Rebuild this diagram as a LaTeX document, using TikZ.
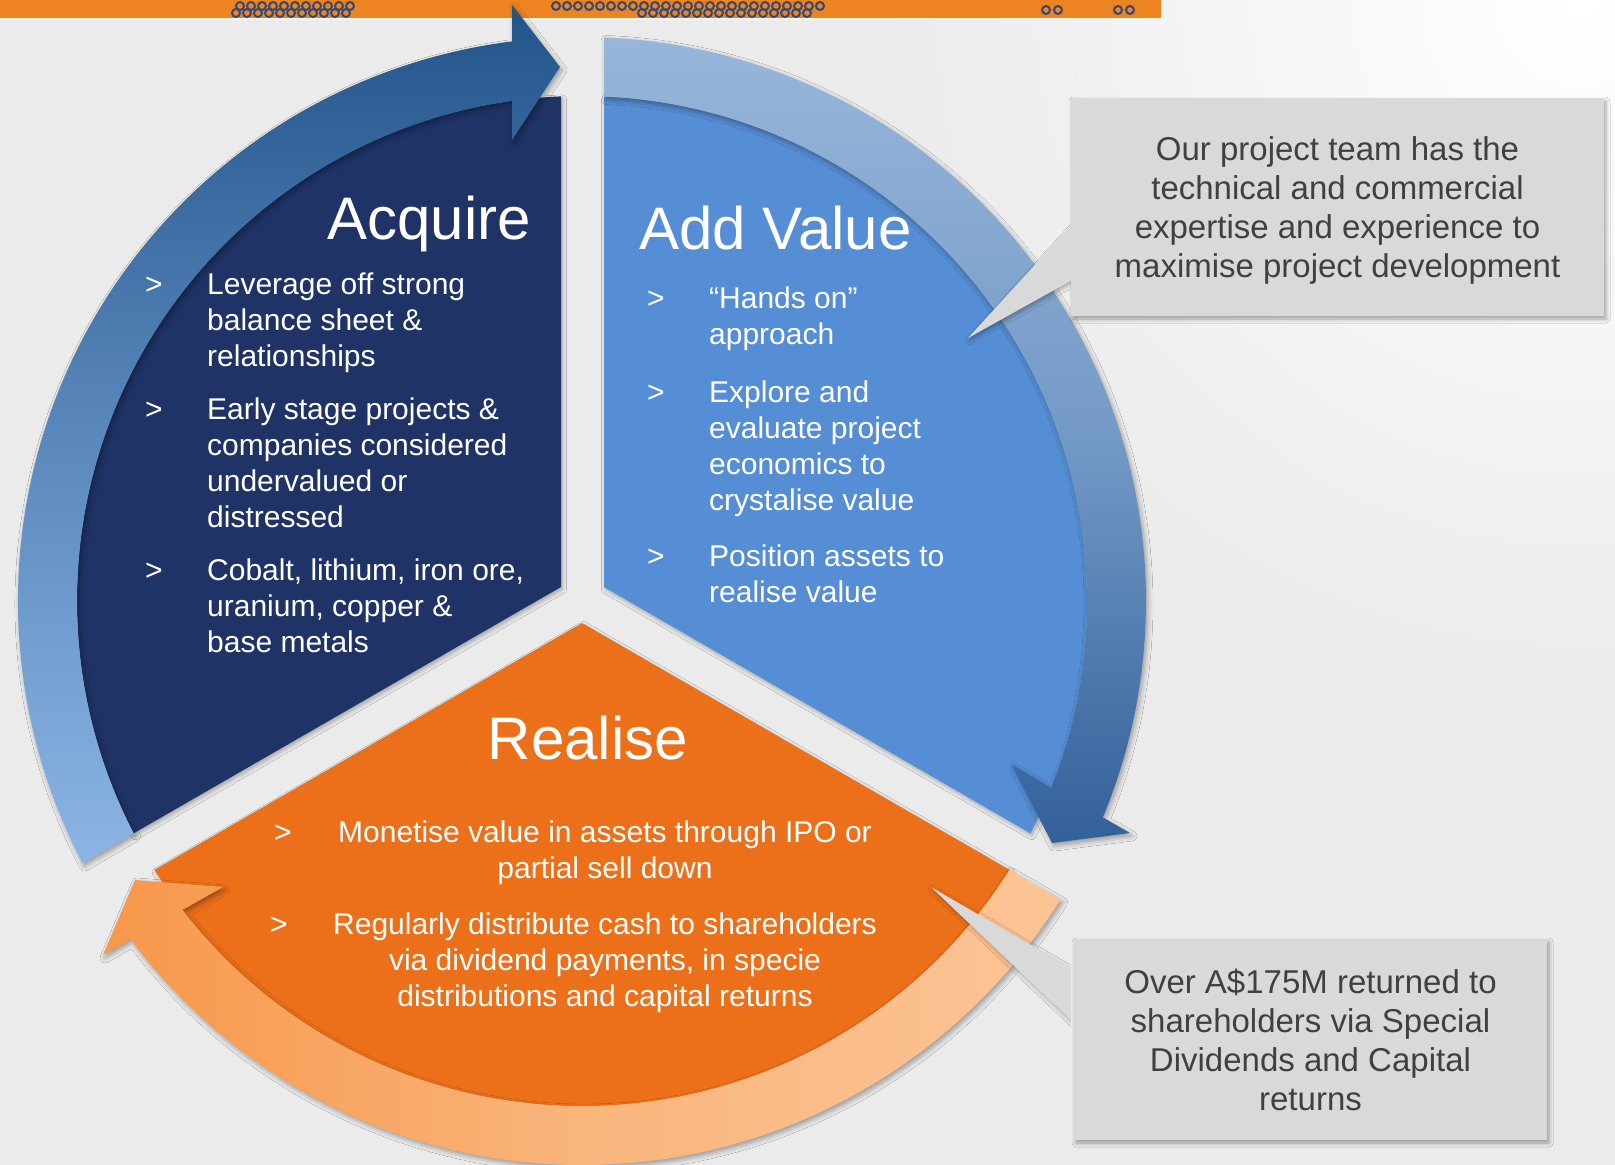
\documentclass[tikz,border=0pt]{standalone}
\usepackage{fontspec}
\setmainfont{Liberation Sans}
\usetikzlibrary{calc,shadows.blur}

\definecolor{bggray}{RGB}{235,235,235}
\definecolor{barorange}{RGB}{238,131,33}
\definecolor{chainblue}{RGB}{46,74,122}
\definecolor{navysector}{RGB}{31,51,102}
\definecolor{bluesector}{RGB}{85,142,213}
\definecolor{orangesector}{RGB}{236,112,26}
\definecolor{navytop}{RGB}{34,84,138}
\definecolor{navymid}{RGB}{90,136,189}
\definecolor{navybottom}{RGB}{140,181,228}
\definecolor{bluetop}{RGB}{152,182,218}
\definecolor{bluemid}{RGB}{115,153,198}
\definecolor{bluebottom}{RGB}{50,96,154}
\definecolor{peachleft}{RGB}{247,151,74}
\definecolor{peachmid}{RGB}{249,181,124}
\definecolor{peachright}{RGB}{252,196,150}
\definecolor{calloutgray}{RGB}{217,217,217}
\definecolor{calloutink}{RGB}{64,64,64}

\begin{document}
\begin{tikzpicture}[x=1pt, y=1pt,
    sectorshadow/.style={blur shadow={shadow xshift=1.5pt, shadow yshift=-2.5pt, shadow blur radius=4pt, shadow opacity=30}},
    bandshadow/.style={blur shadow={shadow xshift=2pt, shadow yshift=-3pt, shadow blur radius=5pt, shadow opacity=35}},
    heading/.style={text=white, inner sep=0pt, font=\fontsize{60}{66}\selectfont},
    itemtext/.style={text=white, inner sep=0pt, align=left, font=\fontsize{30}{36}\selectfont},
    itemmark/.style={text=white, inner sep=0pt, anchor=base west, font=\fontsize{30}{36}\selectfont},
    calloutbox/.style={fill=calloutgray, text=calloutink, inner sep=0pt, align=center,
        font=\fontsize{33}{39}\selectfont,
        blur shadow={shadow xshift=2pt, shadow yshift=-3pt, shadow blur radius=4pt, shadow opacity=35}},
    chain/.style={draw=chainblue, line width=2pt}]

\useasboundingbox (0,0) rectangle (1615,-1165);
\clip (0,0) rectangle (1615,-1165);

% background and top strip
\fill[bggray] (0,0) rectangle (1615,-1165);
\shade[inner color=white, outer color=bggray] (1580,0) circle (700);
\fill[barorange] (0,0) rectangle (1161,-18);
\fill[white!90!barorange] (0,-18) rectangle (1161,-20);
\foreach \x in {240,251,...,350} \draw[chain] (\x,-6) circle (4);
\foreach \x in {236,247,...,350} \draw[chain] (\x,-13) circle (4);
\foreach \x in {556,567,...,820} \draw[chain] (\x,-6) circle (4);
\foreach \x in {642,653,...,815} \draw[chain] (\x,-13) circle (4);
\foreach \x in {1046,1058,1118,1130} \draw[chain] (\x,-10) circle (4);

% the three sectors
\fill[navysector, sectorshadow] (561,-587) -- (561,-96.4)
    arc[start angle=92.38, end angle=207.4, radius=505] -- cycle;
\fill[bluesector, sectorshadow] (604,-587) -- (604,-96.5)
    arc[start angle=87.5, end angle=-27.38, radius=505] -- cycle;
\fill[orangesector, sectorshadow] (582,-623) -- (154.5,-869.8)
    arc[start angle=212.16, end angle=327.84, radius=505] -- cycle;

% circular arrows
\shade[bandshadow, top color=navytop, bottom color=navybottom, middle color=navymid]
    (512,-41.4) -- (512,-5) -- (560,-67) -- (512,-140) -- (512,-100.9)
    arc[start angle=97.97, end angle=207.4, radius=505] -- (82.6,-863.2)
    arc[start angle=207.7, end angle=97.13, radius=564] -- cycle;
\shade[bandshadow, top color=bluetop, bottom color=bluebottom, middle color=bluemid]
    (604,-37.4) -- (604,-96.5)
    arc[start angle=87.5, end angle=-21.7, radius=505] -- (1012,-765) -- (1052,-843)
    -- (1130,-833) -- (1102.8,-817.4)
    arc[start angle=-22.56, end angle=87.76, radius=564] -- cycle;
\shade[bandshadow, left color=peachleft, right color=peachright, middle color=peachmid]
    (1009.5,-869.8) -- (1060.6,-899.4)
    arc[start angle=-31.94, end angle=-143.14, radius=564] -- (103,-955) -- (135,-880)
    -- (223,-887) -- (182.5,-909.9)
    arc[start angle=-142.3, end angle=-32.16, radius=505] -- cycle;

% Acquire (items placed by the baseline of their last line)
\node[heading, anchor=base east] (acquire) at (531,-239) {Acquire};
\foreach \y [count=\i] in {294,419,580} \node[itemmark] (acqmark\i) at (145,-\y) {>};
\node[itemtext, anchor=base west] (acqone) at (207,-366) {Leverage off strong\\balance sheet \&\\relationships};
\node[itemtext, anchor=base west] (acqtwo) at (207,-527) {Early stage projects \&\\companies considered\\undervalued or\\distressed};
\node[itemtext, anchor=base west] (acqthree) at (207,-652) {Cobalt, lithium, iron ore,\\uranium, copper \&\\base metals};

% Add Value
\node[heading, anchor=base west] (addvalue) at (639,-249) {Add Value};
\foreach \y [count=\i] in {308,402,566} \node[itemmark] (addmark\i) at (647,-\y) {>};
\node[itemtext, anchor=base west] (addone) at (709,-344) {“Hands on”\\approach};
\node[itemtext, anchor=base west] (addtwo) at (709,-510) {Explore and\\evaluate project\\economics to\\crystalise value};
\node[itemtext, anchor=base west] (addthree) at (709,-602) {Position assets to\\realise value};

% Realise
\node[heading, anchor=base] (realise) at (588,-759) {Realise};
\node[itemmark] (relmark1) at (274,-842) {>};
\node[itemmark] (relmark2) at (270,-934) {>};
\node[itemtext, align=center, anchor=base] (relone) at (605,-878) {Monetise value in assets through IPO or\\partial sell down};
\node[itemtext, align=center, anchor=base] (reltwo) at (605,-1006) {Regularly distribute cash to shareholders\\via dividend payments, in specie\\distributions and capital returns};

% callouts
\node[calloutbox, minimum width=533pt, minimum height=218pt] (teamnote) at (1337.5,-207)
    {\rule{0pt}{30pt}Our project team has the\\technical and commercial\\expertise and experience to\\maximise project development};
\node[calloutbox, minimum width=473pt, minimum height=201pt] (returnnote) at (1310.5,-1039.5)
    {Over A\$175M returned to\\shareholders via Special\\Dividends and Capital\\returns};
\coordinate (teamtip) at (968,-338);
\coordinate (returntip) at (931,-887);
\begin{scope}
  \clip (0,0) rectangle (teamnote.south west |- 0,-1165);
  \fill[calloutgray, sectorshadow] ($(teamnote.north west)+(0,-128)$) -- (teamtip)
      -- ($(teamnote.north west)+(0,-183)$) -- cycle;
  \fill[calloutgray, sectorshadow] ($(returnnote.north west)+(0,-31)$) -- (returntip)
      -- ($(returnnote.north west)+(0,-84)$) -- cycle;
\end{scope}
\end{tikzpicture}
\end{document}
